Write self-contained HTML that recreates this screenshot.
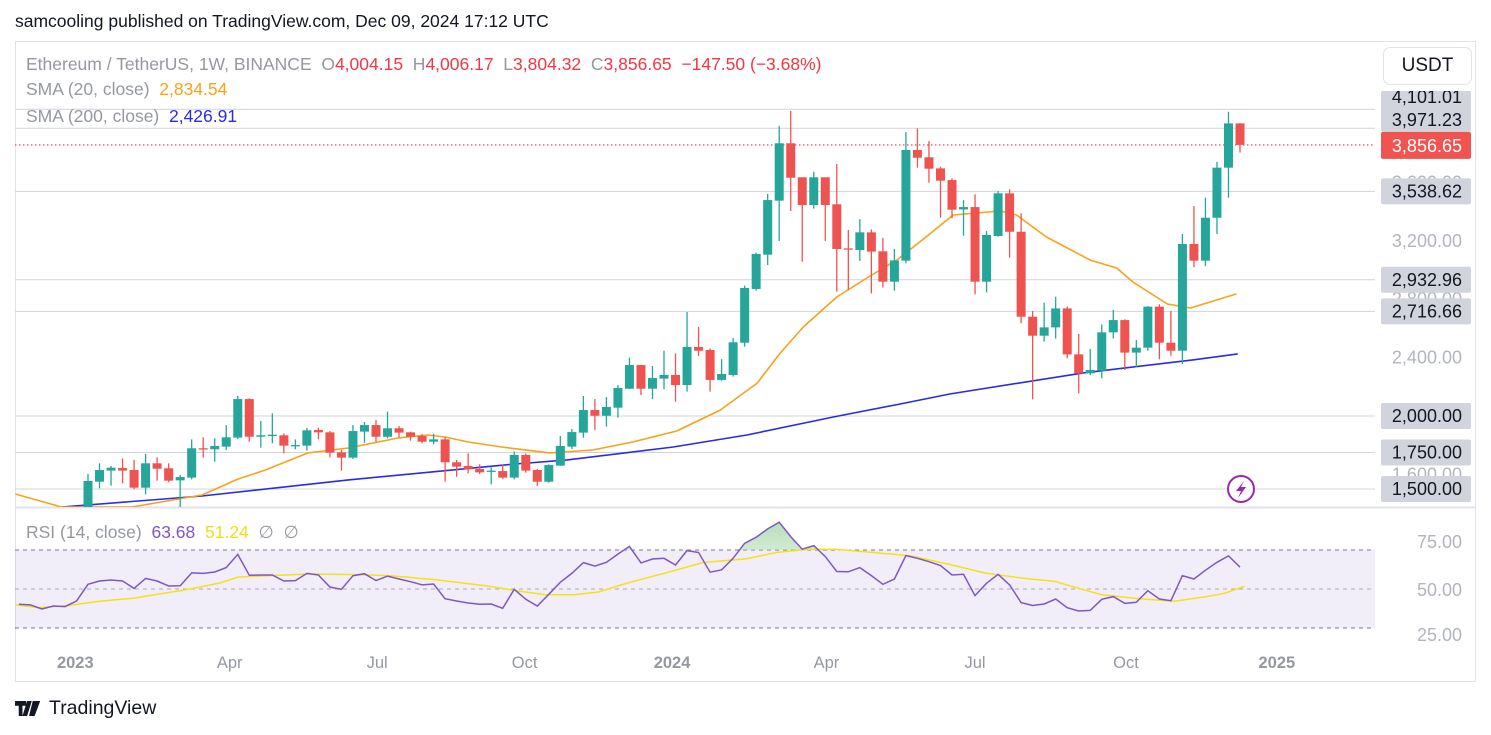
<!DOCTYPE html>
<html><head><meta charset="utf-8"><style>
html,body{margin:0;padding:0;background:#fff;width:1491px;height:735px;overflow:hidden;font-family:"Liberation Sans",sans-serif}
#wrap{position:relative;width:1491px;height:735px}
.t{position:absolute;white-space:nowrap}
</style></head><body><div id="wrap">
<div class="t" style="left:15px;top:11px;font-size:17.5px;color:#131722">samcooling published on TradingView.com, Dec 09, 2024 17:12 UTC</div>
<svg id="svg" width="1491" height="735" style="position:absolute;left:0;top:0"></svg>
<div class="t" style="left:26px;top:54px;font-size:17.5px;color:#9598a1">Ethereum / TetherUS, 1W, BINANCE&nbsp; O<span style="color:#f23645">4,004.15</span>&nbsp; H<span style="color:#f23645">4,006.17</span>&nbsp; L<span style="color:#f23645">3,804.32</span>&nbsp; C<span style="color:#f23645">3,856.65&nbsp; −147.50 (−3.68%)</span></div>
<div class="t" style="left:26px;top:79px;font-size:17.5px;color:#9598a1">SMA (20, close)&nbsp; <span style="color:#f7a21b">2,834.54</span></div>
<div class="t" style="left:26px;top:106px;font-size:17.5px;color:#9598a1">SMA (200, close)&nbsp; <span style="color:#2a2ae8">2,426.91</span></div>
<div class="t" style="left:26px;top:522px;font-size:17.5px;color:#9598a1">RSI (14, close)&nbsp; <span style="color:#7e57c2">63.68</span>&nbsp; <span style="color:#f5dc1a">51.24</span>&nbsp; ∅&nbsp; ∅</div>
<div class="t" style="left:1383px;top:47px;width:87px;height:36px;border:1px solid #e0e3eb;border-radius:7px;font-size:19px;color:#131722;text-align:center;line-height:36px;background:#fff">USDT</div>
<div class="t" style="left:15px;top:697px;font-size:19.5px;color:#131722;display:flex;align-items:center"><svg width="28" height="15" viewBox="0 0 30 16" style="margin-right:6px"><path d="M0 0h12v5H8v11H4V5H0z M13 0h5l-5 16h-5z" fill="#131722"/><path d="M19 0h8l-6 16h-6z" fill="#131722"/></svg>TradingView</div>
</div>
<script>
const opens=[1375,1550,1626,1644,1630,1509,1676,1642,1559,1578,1779,1772,1790,1852,2116,1858,1870,1868,1797,1797,1904,1888,1751,1715,1893,1938,1858,1916,1888,1863,1824,1840,1683,1658,1637,1623,1623,1578,1733,1630,1550,1660,1790,1886,2041,2002,2057,2187,2349,2187,2256,2281,2212,2473,2452,2247,2281,2502,2870,3105,3475,3868,3635,3445,3635,3450,3148,3137,3258,3128,2920,3064,3822,3772,3696,3616,3415,3431,2920,3233,3525,3262,2680,2550,2607,2737,2422,2292,2310,2573,2657,2434,2468,2749,2502,2447,3178,3064,3358,3701,4004];
const highs=[1603,1676,1658,1710,1699,1740,1717,1676,1596,1840,1854,1847,1938,2137,2121,1966,2018,1881,1840,1918,1920,1897,1767,1938,1959,1973,2030,1932,1893,1877,1877,1854,1699,1744,1669,1648,1669,1756,1744,1637,1669,1863,1911,2137,2116,2130,2212,2400,2349,2342,2447,2429,2712,2610,2463,2390,2534,2893,3119,3521,3986,4089,3635,3673,3635,3726,3274,3349,3278,3219,3144,3945,3970,3883,3708,3628,3479,3518,3267,3541,3553,3388,2719,2776,2817,2750,2562,2459,2628,2726,2662,2520,2753,2765,2719,3247,3438,3495,3741,4084,4006];
const lows=[1368,1505,1523,1539,1498,1463,1557,1546,1375,1566,1715,1687,1767,1842,1824,1783,1813,1744,1772,1763,1840,1717,1626,1705,1817,1824,1847,1854,1831,1813,1806,1550,1584,1607,1603,1532,1569,1566,1612,1521,1543,1658,1774,1852,1904,1927,1989,2185,2144,2116,2183,2098,2167,2411,2167,2242,2270,2475,2858,3034,3199,3404,3057,3420,3199,2852,2863,3062,2840,2879,2858,3046,3701,3598,3358,3354,3235,2833,2847,3228,3084,2635,2114,2509,2531,2395,2155,2281,2258,2531,2315,2333,2446,2388,2413,2356,3019,3028,3247,3495,3804];
const closes=[1555,1630,1646,1626,1509,1676,1639,1557,1582,1779,1774,1795,1854,2116,1858,1868,1872,1797,1801,1902,1888,1749,1715,1897,1938,1858,1916,1886,1858,1824,1840,1683,1653,1635,1614,1626,1578,1733,1626,1550,1664,1795,1890,2041,2002,2062,2192,2349,2187,2260,2281,2212,2473,2447,2247,2288,2505,2877,3110,3479,3868,3632,3445,3635,3445,3144,3141,3258,3126,2920,3066,3822,3769,3694,3612,3413,3431,2920,3240,3525,3262,2680,2550,2607,2737,2422,2292,2315,2573,2657,2434,2468,2749,2502,2447,3178,3064,3358,3701,4004,3857];
const sma20Idx=[-6.3,-2.3,3.8,9.9,13,15.4,19.1,22.6,26.9,29.5,31,33,35.9,40.1,43.8,47.3,51.1,54.9,58.1,60.1,62.1,65,67.6,70.2,72.2,75.1,79.2,80.6,83.2,87,89.3,90.7,93.7,95.7,99.7];
const sma20Val=[1466,1377,1377,1459,1568,1630,1747,1781,1849,1870,1856,1822,1788,1747,1767,1822,1897,2041,2226,2432,2610,2815,2945,3068,3192,3377,3404,3377,3226,3068,3014,2918,2767,2740,2836];
const sma200Idx=[-2.3,9.9,22.6,37.1,41.6,50.8,57.2,64.7,70.5,74.8,86.4,95.9,99.8];
const sma200Val=[1377,1452,1562,1671,1699,1788,1870,1993,2082,2151,2295,2384,2425];
const rsiStart=-6;
const rsiVals=[40.2,39.8,37.2,39.1,38.7,42.3,53.0,55.1,55.8,55.1,50.4,56.8,55.1,51.9,52.1,60.3,60.0,60.9,63.7,72.2,58.8,59.0,59.0,55.1,55.4,60.0,59.0,51.3,49.8,58.5,59.8,55.4,58.3,56.4,54.7,52.6,53.2,43.8,42.3,41.0,40.2,40.4,37.6,49.8,43.4,39.1,46.6,54.3,60.0,66.9,64.7,67.1,72.4,77.3,66.7,69.2,
69.7,65.4,74.6,73.4,60.8,62.3,69.7,79.3,83.2,88.5,92.8,83.6,75.5,77.8,70.8,61.2,61.0,63.7,58.6,53.0,56.4,71.4,69.7,67.5,65.0,59.0,59.4,45.8,53.7,59.4,52.6,41.3,39.4,40.4,43.6,38.0,35.9,36.3,43.4,45.1,40.8,41.5,48.9,43.6,42.5,58.6,56.4,62.0,67.1,71.2,64.0];
const rsiMaIdx=[-6.3,-4.2,-1.7,0.8,3.9,8.5,11.4,13,15.6,19.2,23.1,26.3,30.2,32.6,34.8,37.2,39.7,42.2,44.3,46.8,50.6,53.4,57.1,59.9,62.6,64.9,68.2,71.4,74.6,77.9,81.1,83.9,88,91.3,94.3,97.3,98.7,100.4];
const rsiMaVal=[39.8,38.1,39.4,42.0,44.1,49.5,53.8,57.6,58.5,59.6,59.2,58.5,55.9,53.8,51.7,48.9,46.3,46.3,48.1,53.8,61.2,67.0,69.3,73.6,75.5,75.5,73.4,71.2,66.1,60.2,57.0,54.9,46.3,43.8,42.1,45.3,47.4,51.7];
const priceLevels=[4101.01,3971.23,3538.62,2932.96,2716.66,2000,1750,1500];
const priceLabels=["4,101.01","3,971.23","3,538.62","2,932.96","2,716.66","2,000.00","1,750.00","1,500.00"];
const faintLevels=[3600,3200,2800,2400,1600];
const faintLabels=["3,600.00","3,200.00","2,800.00","2,400.00","1,600.00"];
const timeLabels=["2023","Apr","Jul","Oct","2024","Apr","Jul","Oct","2025"];
const timeIdx=[-1.1,12.3,25.1,37.9,50.7,64.1,77.0,90.1,103.2];
const lastPrice=3856.65;

const NS="http://www.w3.org/2000/svg";
const svg=document.getElementById('svg');
function xs(i){return 88+i*11.52;}
function ys(v){return 416-(v-2000)*0.146;}
function ry(v){return 589-(v-50)*1.56;}
function mk(tag,attrs,parent){const e=document.createElementNS(NS,tag);for(const k in attrs)e.setAttribute(k,attrs[k]);(parent||svg).appendChild(e);return e;}

const defs=mk('defs',{});
const cp=mk('clipPath',{id:'mainclip'},defs);mk('rect',{x:15,y:42,width:1360,height:465},cp);
const cp2=mk('clipPath',{id:'rsiclip'},defs);mk('rect',{x:15,y:508,width:1360,height:142},cp2);
const cp3=mk('clipPath',{id:'ob'},defs);mk('rect',{x:15,y:500,width:1360,height:50},cp3);
const gr=mk('linearGradient',{id:'gg',x1:0,y1:0,x2:0,y2:1},defs);
mk('stop',{offset:'0','stop-color':'#a5d6a7','stop-opacity':'0.8'},gr);mk('stop',{offset:'1','stop-color':'#c8e6c9','stop-opacity':'0.1'},gr);
const cpa=mk('clipPath',{id:'axclip'},defs);mk('rect',{x:1381,y:91,width:95,height:600},cpa);
const cpb=mk('clipPath',{id:'axclip2'},defs);mk('rect',{x:1380,y:508,width:95,height:134},cpb);

const frame=mk('rect',{x:15.5,y:41.5,width:1460,height:640,fill:'none',stroke:'#e0e3eb'});

const sep=mk('line',{x1:15,x2:1476,y1:507.5,y2:507.5,stroke:'#e0e3eb','stroke-width':2});


priceLevels.forEach((v,k)=>{const l=mk('line',{x1:15,x2:1375,y1:ys(v),y2:ys(v),stroke:'#d1d4dc','stroke-width':1});
});
const pl=mk('line',{x1:15,x2:1375,y1:ys(lastPrice),y2:ys(lastPrice),stroke:'#f23645','stroke-width':1.2,'stroke-dasharray':'1.5 2.5'});


const main=mk('g',{'clip-path':'url(#mainclip)'});

function poly(idx,val,color,w,name){let d='';idx.forEach((i,k)=>{d+=(k?'L':'M')+xs(i).toFixed(1)+' '+ys(val[k]).toFixed(1);});
const p=mk('path',{d:d,fill:'none',stroke:color,'stroke-width':w,'stroke-linejoin':'round'},main);
}
poly(sma200Idx,sma200Val,'#2a2ae8',1.6,'sma200-line');
poly(sma20Idx,sma20Val,'#f7a21b',1.6,'sma20-line');
for(let i=0;i<opens.length;i++){
 const up=closes[i]>=opens[i];const col=up?'#26a69a':'#ef5350';const x=xs(i);
 const g=mk('g',{},main);
 
 
 mk('line',{x1:x,x2:x,y1:ys(highs[i]),y2:ys(lows[i]),stroke:col,'stroke-width':1.3},g);
 const t=ys(Math.max(opens[i],closes[i])),b=ys(Math.min(opens[i],closes[i]));
 mk('rect',{x:x-4.5,y:t,width:9,height:Math.max(1.3,b-t),fill:col},g);
}

const rg=mk('g',{'clip-path':'url(#rsiclip)'});

const bg=mk('rect',{x:15,y:ry(75),width:1360,height:ry(25)-ry(75),fill:'#7e57c2','fill-opacity':0.1},rg);

[75,50,25].forEach(v=>{const l=mk('line',{x1:15,x2:1375,y1:ry(v),y2:ry(v),stroke:v==50?'#a8abb5':'#787b86','stroke-width':1,'stroke-dasharray':'4 4'},rg);
});
let rd='';rsiVals.forEach((v,k)=>{rd+=(k?'L':'M')+xs(rsiStart+k).toFixed(1)+' '+ry(v).toFixed(1);});
document.getElementById('ob').firstChild.setAttribute('height',ry(75)-500);
const fill=mk('path',{d:rd+'L'+xs(rsiStart+rsiVals.length-1)+' '+ry(75)+'L'+xs(rsiStart)+' '+ry(75)+'Z',fill:'url(#gg)','clip-path':'url(#ob)'},rg);

let md='';rsiMaIdx.forEach((i,k)=>{md+=(k?'L':'M')+xs(i).toFixed(1)+' '+ry(rsiMaVal[k]).toFixed(1);});
const ma=mk('path',{d:md,fill:'none',stroke:'#f5e11a','stroke-width':1.5},rg);

const rl=mk('path',{d:rd,fill:'none',stroke:'#7e57c2','stroke-width':1.5},rg);


faintLevels.forEach((v,k)=>{const t=mk('text',{x:1462,y:ys(v)+6,'text-anchor':'end','font-size':18,fill:'#b2b5be','font-family':'Liberation Sans, sans-serif'});t.textContent=faintLabels[k];
});
priceLevels.forEach((v,k)=>{let y=ys(v);let top=y-13,h=26;
 if(k==0){top=91;h=y+13-91;} if(k==1){top=ys(v)-10;h=ys(lastPrice)-13-top;}
 const r=mk('rect',{x:1381,y:top,width:90,height:h,fill:'#d1d4dc',rx:2});
 });
const labelY=[103,126];
priceLevels.forEach((v,k)=>{const yy=k<2?labelY[k]:ys(v)+6;const t=mk('text',{x:1462,y:yy,'text-anchor':'end','font-size':18,fill:'#131722','font-family':'Liberation Sans, sans-serif','clip-path':'url(#axclip)'});t.textContent=priceLabels[k];
});
const lr=mk('rect',{x:1381,y:ys(lastPrice)-13,width:90,height:27,fill:'#f05350',rx:2});

const lt=mk('text',{x:1462,y:ys(lastPrice)+7,'text-anchor':'end','font-size':18,fill:'#fff','font-family':'Liberation Sans, sans-serif'});lt.textContent='3,856.65';

[75,50,25].forEach(v=>{const t=mk('text',{x:1462,y:ry(v)+(v==75?-2:v==50?7:13),'text-anchor':'end','font-size':18,fill:'#b2b5be','font-family':'Liberation Sans, sans-serif','clip-path':'url(#axclip2)'});t.textContent=v.toFixed(2);
});

timeLabels.forEach((s,k)=>{const t=mk('text',{x:xs(timeIdx[k]),y:668,'text-anchor':'middle','font-size':16.5,fill:'#9598a1','font-weight':/^\d/.test(s)?'bold':'normal','font-family':'Liberation Sans, sans-serif'});t.textContent=s;
});

const li=mk('g',{});

mk('circle',{cx:1241,cy:489,r:13,fill:'#fff',stroke:'#9c27b0','stroke-width':2},li);
mk('path',{d:'M1244 481 L1236 491 L1241 491 L1238 498 L1246 487 L1241 487 Z',fill:'#9c27b0'},li);
</script>
</body></html>
